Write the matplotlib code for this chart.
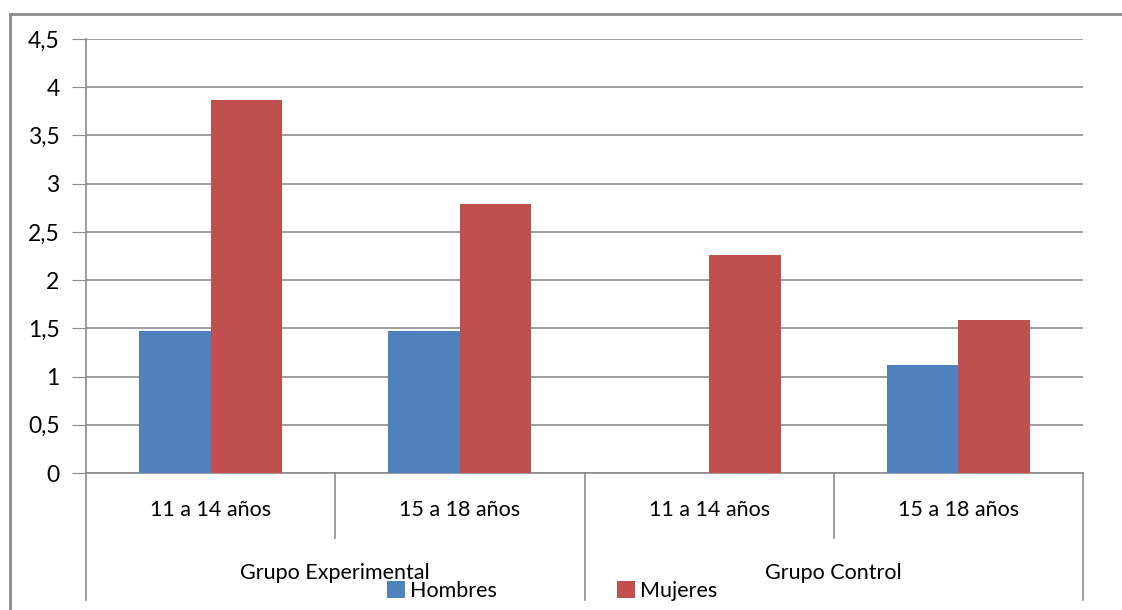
import matplotlib.pyplot as plt
from matplotlib.lines import Line2D
from matplotlib.ticker import FuncFormatter

# datos
edades = ['11 a 14 años', '15 a 18 años', '11 a 14 años', '15 a 18 años']
grupos = ['Grupo Experimental', 'Grupo Control']
hombres = [1.47, 1.47, 0, 1.12]
mujeres = [3.87, 2.79, 2.26, 1.59]

azul = '#4F81BD'
rojo = '#C0504D'
gris = '#8C8C8C'

plt.rcParams['font.family'] = ['Lato', 'DejaVu Sans']

fig = plt.figure(figsize=(11.22, 6.10), dpi=100)
ax = fig.add_axes([86 / 1122, 1 - 473 / 610, (1083 - 86) / 1122, (473 - 39) / 610])

x = list(range(len(edades)))
w = 0.287
ax.bar([i - w / 2 for i in x], hombres, w, color=azul, label='Hombres', zorder=3)
ax.bar([i + w / 2 for i in x], mujeres, w, color=rojo, label='Mujeres', zorder=3)

ax.set_xlim(-0.5, len(edades) - 0.5)
ax.set_ylim(0, 4.5)
ax.set_yticks([i * 0.5 for i in range(10)])
ax.yaxis.set_major_formatter(FuncFormatter(lambda v, p: ('%g' % v).replace('.', ',')))
ax.tick_params(axis='y', length=10, color=gris, labelsize=16.5, pad=9, labelcolor='#000000')
ax.set_xticks([])
ax.grid(axis='y', color=gris, linewidth=1.2, zorder=0)

for s in ['top', 'right']:
    ax.spines[s].set_visible(False)
for s in ['left', 'bottom']:
    ax.spines[s].set_color(gris)
    ax.spines[s].set_linewidth(1.2)

# etiquetas jerárquicas del eje x
tr = ax.get_xaxis_transform()
for i, lab in enumerate(edades):
    ax.text(i, -0.085, lab, transform=tr, ha='center', va='center', fontsize=15.5)
n = len(edades) // len(grupos)
for g, lab in enumerate(grupos):
    ax.text(g * n + (n - 1) / 2, -0.23, lab, transform=tr, ha='center', va='center', fontsize=15.5)
for b in range(len(edades) + 1):
    bx = b - 0.5
    low = -0.293 if b % n == 0 else -0.15
    ax.plot([bx, bx], [0, low], transform=tr, color=gris, lw=1.2, clip_on=False)

fig.legend(loc='center', bbox_to_anchor=(552 / 1122, 1 - 591 / 610), ncol=2, frameon=False,
           fontsize=15.5, handlelength=0.85, handleheight=0.85, handletextpad=0.2,
           columnspacing=5.6, borderpad=0)

# marco del gráfico
fig.add_artist(Line2D([10 / 1122, 10 / 1122], [0, 1 - 14 / 610], color=gris, lw=2))
fig.add_artist(Line2D([10 / 1122, 1], [1 - 14 / 610, 1 - 14 / 610], color=gris, lw=2))

fig.savefig('out.png', dpi=100)
